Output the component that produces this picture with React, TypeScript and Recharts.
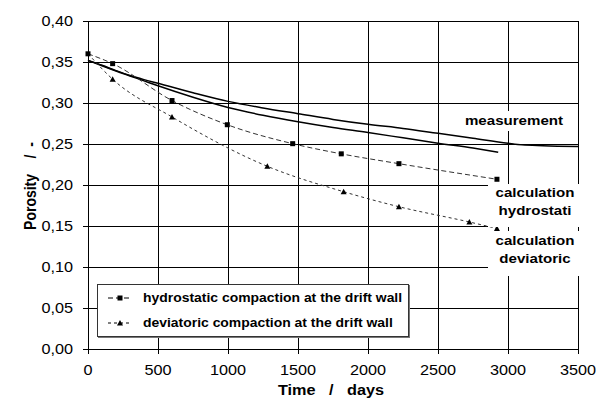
import React from "react";
import {
  CartesianGrid,
  Legend,
  Line,
  LineChart,
  XAxis,
  YAxis,
} from "recharts";

const measTime = [0, 100, 200, 300, 400, 500, 750, 1000, 1250, 1500, 1750, 2000, 2250, 2500, 2750, 3000, 3100, 3250, 3500];
const measPorosity = [0.352, 0.346, 0.3395, 0.3335, 0.3285, 0.324, 0.3125, 0.302, 0.294, 0.287, 0.28, 0.274, 0.269, 0.263, 0.257, 0.251, 0.249, 0.248, 0.247];

const calcTime = [0, 100, 200, 300, 400, 500, 750, 1000, 1250, 1500, 1750, 2000, 2250, 2500, 2750, 2930];
const calcPorosity = [0.352, 0.3455, 0.339, 0.333, 0.327, 0.321, 0.307, 0.2945, 0.285, 0.277, 0.27, 0.264, 0.2575, 0.251, 0.245, 0.24];

const hydroTime = [0, 176, 600, 995, 1462, 1809, 2221, 2921];
const hydroPorosity = [0.36, 0.348, 0.303, 0.2735, 0.2504, 0.238, 0.226, 0.207];

const devTime = [0, 176, 600, 1281, 1826, 2221, 2724, 2921];
const devPorosity = [0.36, 0.329, 0.283, 0.2228, 0.1918, 0.1735, 0.1549, 0.147];

const xTicks = [0, 500, 1000, 1500, 2000, 2500, 3000, 3500];
const yTicks = [0, 0.05, 0.1, 0.15, 0.2, 0.25, 0.3, 0.35, 0.4];

const legendItems = [
  { name: "hydrostatic compaction at the drift wall", marker: "square", dash: "5 3" },
  { name: "deviatoric compaction at the drift wall", marker: "triangle", dash: "3 3" },
];

const toPoints = (t: number[], p: number[]) => t.map((x, i) => ({ x, y: p[i] }));

const FONT = 'Arial, "Liberation Sans", sans-serif';
const STRETCH = 1.16; // the picture is a little wider than plain Arial

const SquareDot = (props: any) => {
  const { cx, cy, index } = props;
  if (cx == null || cy == null) return <g key={index} />;
  return <rect key={index} x={cx - 2.5} y={cy - 2.5} width={5} height={5} fill="#000" />;
};

const TriangleDot = (props: any) => {
  const { cx, cy, index } = props;
  if (cx == null || cy == null || index === 0) return <g key={index} />;
  return (
    <polygon
      key={index}
      points={`${cx},${cy - 3} ${cx - 3},${cy + 2.5} ${cx + 3},${cy + 2.5}`}
      fill="#000"
    />
  );
};

const XTick = ({ x, y, payload }: any) => (
  <g transform={`translate(${x},${y})`}>
    <text transform={`scale(${STRETCH},1)`} textAnchor="middle" dy="0.71em" fontSize={14} fontFamily={FONT} fill="#000">
      {payload.value}
    </text>
  </g>
);

const YTick = ({ x, y, payload }: any) => (
  <g transform={`translate(${x},${y})`}>
    <text transform={`scale(${STRETCH},1)`} textAnchor="end" dy="0.355em" fontSize={14} fontFamily={FONT} fill="#000">
      {Number(payload.value).toFixed(2).replace(".", ",")}
    </text>
  </g>
);

function LegendBox() {
  return (
    <div
      style={{
        position: "relative",
        width: 312,
        height: 53,
        boxSizing: "border-box",
        border: "1px solid #333",
        boxShadow: "1px 1px 0 #777",
        background: "#fff",
        fontFamily: FONT,
      }}
    >
      {legendItems.map((item, i) => (
        <div key={item.name} style={{ position: "absolute", left: 0, top: 1 + i * 25, height: 25, width: "100%" }}>
          <svg width={24} height={10} style={{ position: "absolute", left: 10, top: 7 }}>
            <line x1={0} x2={24} y1={5} y2={5} stroke="#000" strokeDasharray={item.dash} />
            {item.marker === "square" ? (
              <rect x={9.5} y={2.5} width={5} height={5} fill="#000" />
            ) : (
              <polygon points="12,2 9,7.5 15,7.5" fill="#000" />
            )}
          </svg>
          <span
            style={{
              position: "absolute",
              left: 45,
              top: 5,
              fontSize: 12,
              fontWeight: "bold",
              whiteSpace: "pre",
              transform: `scaleX(${STRETCH})`,
              transformOrigin: "left center",
              lineHeight: "14px",
            }}
          >
            {item.name}
          </span>
        </div>
      ))}
    </div>
  );
}

const labelStyle: React.CSSProperties = {
  position: "absolute",
  background: "#fff",
  fontFamily: FONT,
  fontWeight: "bold",
  fontSize: 13,
  textAlign: "center",
  whiteSpace: "pre",
};

const textStretch: React.CSSProperties = {
  display: "block",
  transform: `scaleX(${STRETCH})`,
};

export default function App() {
  return (
    <div style={{ position: "absolute", left: 0, top: 0, width: 602, height: 408, background: "#fff" }}>
      <style>{`.recharts-cartesian-grid line, .recharts-cartesian-axis-line, .recharts-cartesian-axis-tick-line { shape-rendering: crispEdges; }`}</style>
      <LineChart width={602} height={408} margin={{ top: 21, right: 24, bottom: 0, left: 0 }}>
        <CartesianGrid stroke="#000" strokeWidth={1} />
        <XAxis
          dataKey="x"
          type="number"
          domain={[0, 3500]}
          ticks={xTicks}
          height={59}
          tickSize={5}
          tickMargin={11}
          stroke="#000"
          tick={<XTick />}
          allowDuplicatedCategory={false}
        />
        <YAxis
          type="number"
          domain={[0, 0.4]}
          ticks={yTicks}
          width={88}
          tickSize={5}
          tickMargin={10}
          stroke="#000"
          tick={<YTick />}
        />
        <Legend
          layout="vertical"
          align="center"
          verticalAlign="middle"
          wrapperStyle={{ left: 97, top: 284, width: 312, height: 53 }}
          content={() => <LegendBox />}
        />
        <Line
          data={toPoints(measTime, measPorosity)}
          dataKey="y"
          name="measurement"
          type="monotone"
          stroke="#000"
          strokeWidth={1.5}
          dot={false}
          isAnimationActive={false}
          legendType="none"
        />
        <Line
          data={toPoints(calcTime, calcPorosity)}
          dataKey="y"
          name="calculation"
          type="monotone"
          stroke="#000"
          strokeWidth={1.5}
          dot={false}
          isAnimationActive={false}
          legendType="none"
        />
        <Line
          data={toPoints(devTime, devPorosity)}
          dataKey="y"
          name="deviatoric compaction at the drift wall"
          type="monotone"
          stroke="#333"
          strokeWidth={1}
          strokeDasharray="3 3"
          dot={TriangleDot}
          isAnimationActive={false}
        />
        <Line
          data={toPoints(hydroTime, hydroPorosity)}
          dataKey="y"
          name="hydrostatic compaction at the drift wall"
          type="monotone"
          stroke="#333"
          strokeWidth={1}
          strokeDasharray="5 3"
          dot={SquareDot}
          isAnimationActive={false}
        />
      </LineChart>

      <div style={{ ...labelStyle, left: 462, top: 111, width: 104, height: 20, lineHeight: "20px" }}>
        <span style={textStretch}>measurement</span>
      </div>
      <div style={{ ...labelStyle, left: 488, top: 184, width: 94, height: 43, lineHeight: "18px" }}>
        <span style={textStretch}>calculation</span>
        <span style={textStretch}>hydrostati</span>
      </div>
      <div style={{ ...labelStyle, left: 488, top: 231, width: 94, height: 45, lineHeight: "18px", paddingTop: 1, boxSizing: "border-box" }}>
        <span style={textStretch}>calculation</span>
        <span style={textStretch}>deviatoric</span>
      </div>

      <div
        style={{
          position: "absolute",
          left: 30,
          top: 186,
          fontFamily: FONT,
          fontWeight: "bold",
          fontSize: 14,
          whiteSpace: "pre",
          transform: `translate(-50%, -50%) rotate(-90deg) scaleY(${STRETCH})`,
        }}
      >
        {"Porosity    /  -"}
      </div>
      <div
        style={{
          position: "absolute",
          left: 331,
          top: 390,
          fontFamily: FONT,
          fontWeight: "bold",
          fontSize: 14,
          whiteSpace: "pre",
          transform: `translate(-50%, -50%) scaleX(${STRETCH})`,
        }}
      >
        {"Time   /   days"}
      </div>
    </div>
  );
}
